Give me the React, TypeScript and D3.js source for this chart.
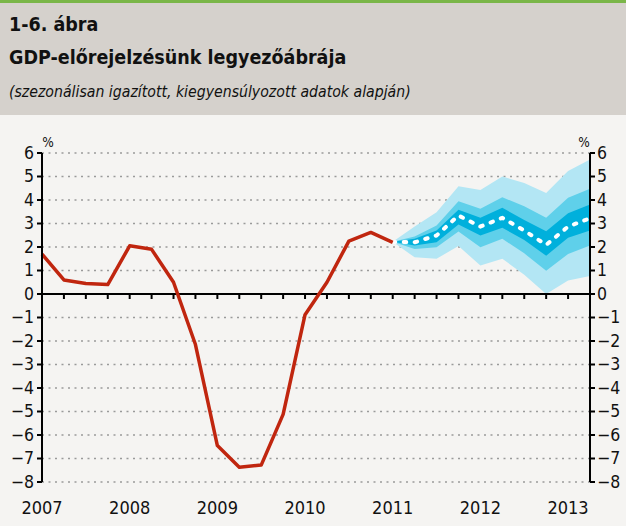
import React from "react";
import * as d3 from "d3";

const W = 626;
const H = 526;

const titleNum = "1-6. ábra";
const titleMain = "GDP-előrejelzésünk legyezőábrája";
const subtitle = "(szezonálisan igazított, kiegyensúlyozott adatok alapján)";

// quarterly index 0 = 2007Q1 ... 25 = 2013Q2
const yearLabels = ["2007", "2008", "2009", "2010", "2011", "2012", "2013"];
const yTicks = [6, 5, 4, 3, 2, 1, 0, -1, -2, -3, -4, -5, -6, -7, -8];

const actual = [1.7, 0.6, 0.45, 0.4, 2.05, 1.9, 0.5, -2.15, -6.45, -7.37, -7.28, -5.12, -0.88, 0.5, 2.25, 2.62, 2.2];

const fanStart = 16;
const center = [2.22, 2.2, 2.49, 3.34, 2.87, 3.24, 2.7, 2.09, 2.87, 3.22];
const lightUpper = [2.22, 2.87, 3.48, 4.58, 4.43, 5.0, 4.72, 4.3, 5.23, 5.72];
const lightLower = [2.22, 1.56, 1.5, 2.04, 1.21, 1.5, 0.82, 0.0, 0.57, 0.77];
const midUpper = [2.22, 2.45, 2.92, 3.95, 3.63, 4.12, 3.73, 3.24, 4.1, 4.48];
const midLower = [2.22, 1.92, 1.99, 2.66, 1.99, 2.35, 1.73, 0.99, 1.7, 2.06];
const darkUpper = [2.22, 2.35, 2.7, 3.58, 3.24, 3.67, 3.15, 2.67, 3.44, 3.81];
const darkLower = [2.22, 2.06, 2.2, 2.96, 2.49, 2.82, 2.3, 1.63, 2.39, 2.7];

const FONT = "'DejaVu Sans Condensed', 'DejaVu Sans', sans-serif";

export default function App() {
  const x = d3.scaleLinear().domain([0, 25]).range([42, 590]);
  const y = d3.scaleLinear().domain([-8, 6]).range([482, 153]);

  const lineGen = d3
    .line<number>()
    .x((_, i) => x(i))
    .y((d) => y(d));

  const band = (upper: number[], lower: number[]) =>
    d3
      .area<number>()
      .x((_, i) => x(fanStart + i))
      .y0((_, i) => y(lower[i]))
      .y1((d) => y(d))(upper) || "";

  const centerLine =
    d3
      .line<number>()
      .x((_, i) => x(fanStart + i))
      .y((d) => y(d))(center) || "";

  const quarters = d3.range(0, 26);
  const fmt = (t: number) => (t < 0 ? "\u2212" + Math.abs(t) : String(t));

  return (
    <svg
      width={W}
      height={H}
      style={{ position: "absolute", left: 0, top: 0, display: "block", fontStretch: "condensed" }}
      fontFamily={FONT}
    >
      <rect x={0} y={0} width={W} height={H} fill="#f5f4f2" />
      <rect x={0} y={0} width={W} height={115} fill="#d5d1cc" />
      <rect x={0} y={0} width={W} height={3} fill="#7ab648" />
      <text x={9} y={31} fontSize={19.5} fontWeight="bold" fill="#111">
        {titleNum}
      </text>
      <text x={9} y={64} fontSize={19.5} fontWeight="bold" fill="#111">
        {titleMain}
      </text>
      <text x={9} y={97} fontSize={15.7} fontStyle="italic" fill="#111">
        {subtitle}
      </text>

      {/* gridlines */}
      {yTicks
        .filter((t) => t !== 0)
        .map((t) => (
          <line
            key={"g" + t}
            x1={x(0)}
            x2={x(25)}
            y1={y(t)}
            y2={y(t)}
            stroke="#9a9a9a"
            strokeWidth={1.3}
            strokeDasharray="2,4.5"
          />
        ))}

      {/* fan */}
      <path d={band(lightUpper, lightLower)} fill="#b3e6f4" />
      <path d={band(midUpper, midLower)} fill="#5fd0ea" />
      <path d={band(darkUpper, darkLower)} fill="#00b0dc" />
      <path
        d={centerLine}
        fill="none"
        stroke="#ffffff"
        strokeWidth={4}
        strokeLinecap="round"
        strokeDasharray="2.5,8.5"
      />

      {/* zero line and ticks */}
      <line x1={x(0)} x2={x(25)} y1={y(0)} y2={y(0)} stroke="#000" strokeWidth={2} />
      {quarters.map((q) => (
        <line
          key={"q" + q}
          x1={x(q)}
          x2={x(q)}
          y1={y(0)}
          y2={y(0) + 5}
          stroke="#000"
          strokeWidth={2}
        />
      ))}

      {/* actual */}
      <path
        d={lineGen(actual) || ""}
        fill="none"
        stroke="#c0260f"
        strokeWidth={3.5}
        strokeLinejoin="round"
      />

      {/* axes */}
      <line x1={x(0)} x2={x(0)} y1={y(6)} y2={y(-8)} stroke="#000" strokeWidth={2} />
      <line x1={x(25)} x2={x(25)} y1={y(6)} y2={y(-8)} stroke="#000" strokeWidth={2} />
      {yTicks.map((t) => (
        <g key={"t" + t}>
          <line x1={x(0) - 5} x2={x(0)} y1={y(t)} y2={y(t)} stroke="#000" strokeWidth={2} />
          <line x1={x(25)} x2={x(25) + 5} y1={y(t)} y2={y(t)} stroke="#000" strokeWidth={2} />
          <text x={34} y={y(t)} dy="0.34em" textAnchor="end" fontSize={17.5} fill="#111">
            {fmt(t)}
          </text>
          <text x={597} y={y(t)} dy="0.34em" textAnchor="start" fontSize={17.5} fill="#111">
            {fmt(t)}
          </text>
        </g>
      ))}
      <text x={48} y={147} textAnchor="middle" fontSize={13.5} fill="#111">
        %
      </text>
      <text x={584} y={147} textAnchor="middle" fontSize={13.5} fill="#111">
        %
      </text>

      {yearLabels.map((lab, i) => (
        <text key={lab} x={x(i * 4)} y={514} textAnchor="middle" fontSize={18} fill="#111">
          {lab}
        </text>
      ))}
    </svg>
  );
}
